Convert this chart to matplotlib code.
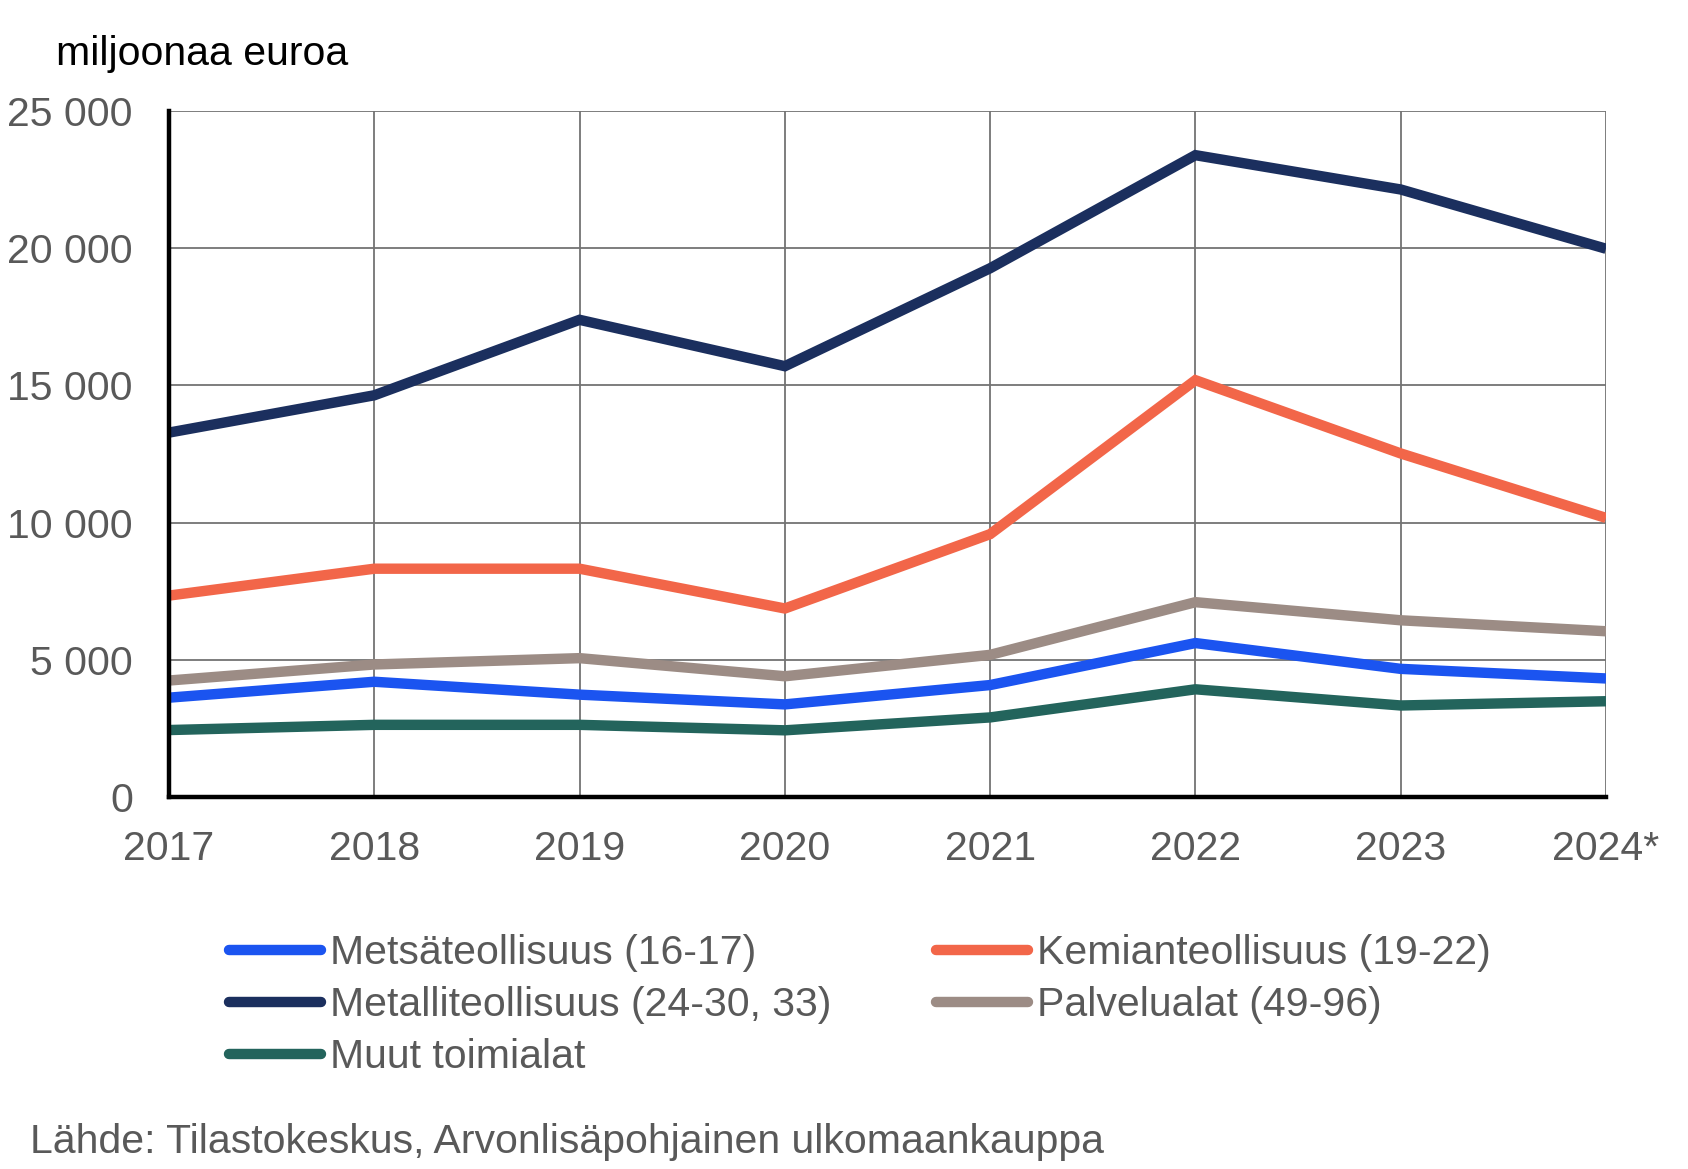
import matplotlib
matplotlib.use("Agg")
import matplotlib.pyplot as plt

years = ["2017", "2018", "2019", "2020", "2021", "2022", "2023", "2024*"]
metsa = [3620, 4200, 3730, 3375, 4080, 5610, 4670, 4320]
kemian = [7340, 8320, 8320, 6870, 9580, 15190, 12520, 10170]
metalli = [13280, 14640, 17390, 15700, 19270, 23390, 22140, 19980]
palvelu = [4245, 4830, 5060, 4400, 5180, 7100, 6440, 6040]
muut = [2440, 2630, 2630, 2430, 2900, 3925, 3335, 3490]
yticks = [0, 5000, 10000, 15000, 20000, 25000]
ytick_labels = ["0", "5 000", "10 000", "15 000", "20 000", "25 000"]

series = [
    ("Metsäteollisuus (16-17)", metsa, "#1B54F0"),
    ("Metalliteollisuus (24-30, 33)", metalli, "#1B2F5E"),
    ("Muut toimialat", muut, "#23645C"),
    ("Kemianteollisuus (19-22)", kemian, "#F26649"),
    ("Palvelualat (49-96)", palvelu, "#9C8C85"),
]

plt.rcParams['font.family'] = ['Liberation Sans', 'DejaVu Sans']
W, H = 1688, 1169
FS = 29.5
fig = plt.figure(figsize=(W / 100, H / 100), dpi=100)
ax = fig.add_axes([169 / W, 1 - 797 / H, (1606 - 169) / W, (797 - 111) / H])

x = list(range(len(years)))
handles = []
for label, vals, col in series:
    ln, = ax.plot(x, vals, color=col, lw=7.5, label=label, solid_capstyle='butt',
                  solid_joinstyle='miter', zorder=3)
    handles.append(ln)

ax.set_xlim(0, len(years) - 1)
ax.set_ylim(0, 25000)
ax.set_xticks(x)
ax.set_xticklabels(years)
ax.set_yticks(yticks)
ax.set_yticklabels(ytick_labels)
ax.grid(True, color="#737373", lw=1.3, zorder=1)
ax.tick_params(length=0, labelsize=FS, labelcolor="#595959")
ax.tick_params(axis='x', pad=24)
ax.tick_params(axis='y', pad=26)
for s in ["top", "right"]:
    ax.spines[s].set_visible(False)
for s in ["left", "bottom"]:
    ax.spines[s].set_color("black")
    ax.spines[s].set_linewidth(3.2)
    ax.spines[s].set_zorder(4)

fig.text(56 / W, 1 - 54 / H, "miljoonaa euroa", fontsize=FS, color="black",
         ha="left", va="center")

leg = fig.legend(handles=handles, ncol=2, loc="upper left",
                 bbox_to_anchor=(229 / W, 1 - 934 / H), frameon=False,
                 fontsize=FS, labelcolor="#595959", handlelength=2.25,
                 handletextpad=0.22, labelspacing=0.34, columnspacing=2.55,
                 borderpad=0, borderaxespad=0)
for h in leg.legend_handles:
    h.set_solid_capstyle('round')

fig.text(30 / W, 1 - 1142 / H,
         "Lähde: Tilastokeskus, Arvonlisäpohjainen ulkomaankauppa",
         fontsize=FS, color="#595959", ha="left", va="center")

fig.savefig("out.png", dpi=100)
